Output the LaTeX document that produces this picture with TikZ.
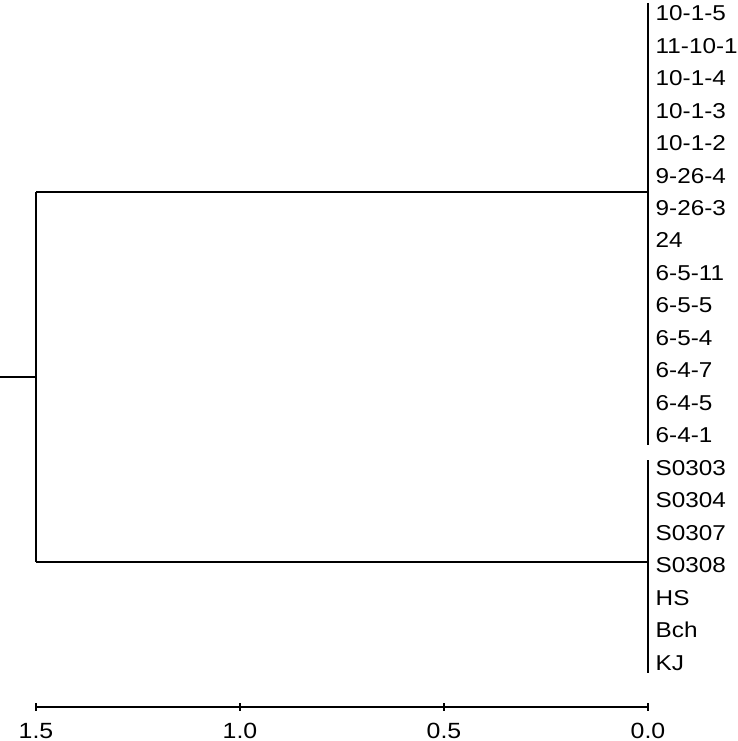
\documentclass[tikz,border=0pt]{standalone}
\usepackage{graphicx}
\usepackage{fontspec}
\setmainfont{Liberation Sans}
\newcommand{\wide}[1]{\scalebox{1.13}[1]{#1}}
\begin{document}
\begin{tikzpicture}[x=1pt,y=-1pt,
  lbl/.style={anchor=base west,inner sep=0pt,font=\fontsize{21.5}{21.5}\selectfont},
  ticklbl/.style={anchor=base,inner sep=0pt,font=\fontsize{22}{22}\selectfont},
  br/.style={line width=1.4pt,black}]
\useasboundingbox (0,0) rectangle (737,741);
% leaf labels
\foreach \t [count=\i from 0] in {10-1-5,11-10-1,10-1-4,10-1-3,10-1-2,9-26-4,9-26-3,24,6-5-11,6-5-5,6-5-4,6-4-7,6-4-5,6-4-1,S0303,S0304,S0307,S0308,HS,Bch,KJ}
  \node[lbl] (L\i) at (655.5,{20.7+32.47*\i}) {\wide{\t}};
% clusters
\coordinate (rootend) at (0,377);
\coordinate (root) at (36,377);
\coordinate (ra) at (36,192);
\coordinate (rb) at (36,562);
\coordinate (A) at (648,192);
\coordinate (B) at (648,562);
\coordinate (Atop) at (648,3);
\coordinate (Abot) at (648,445);
\coordinate (Btop) at (648,460);
\coordinate (Bbot) at (648,673);
\draw[br] (rootend) -- (root);
\draw[br] (ra) -- (rb);
\draw[br] (ra) -- (A);
\draw[br] (rb) -- (B);
\draw[br] (Atop) -- (Abot);
\draw[br] (Btop) -- (Bbot);
% axis
\coordinate (ax0) at (36,707);
\coordinate (ax1) at (648,707);
\draw[br] (ax0) -- (ax1);
\foreach \x/\v [count=\k] in {36/1.5,240/1.0,444/0.5,648/0.0}{
  \draw[br] (\x,703) -- (\x,711);
  \node[ticklbl] (T\k) at (\x,738.3) {\wide{\v}};
}
\end{tikzpicture}
\end{document}
